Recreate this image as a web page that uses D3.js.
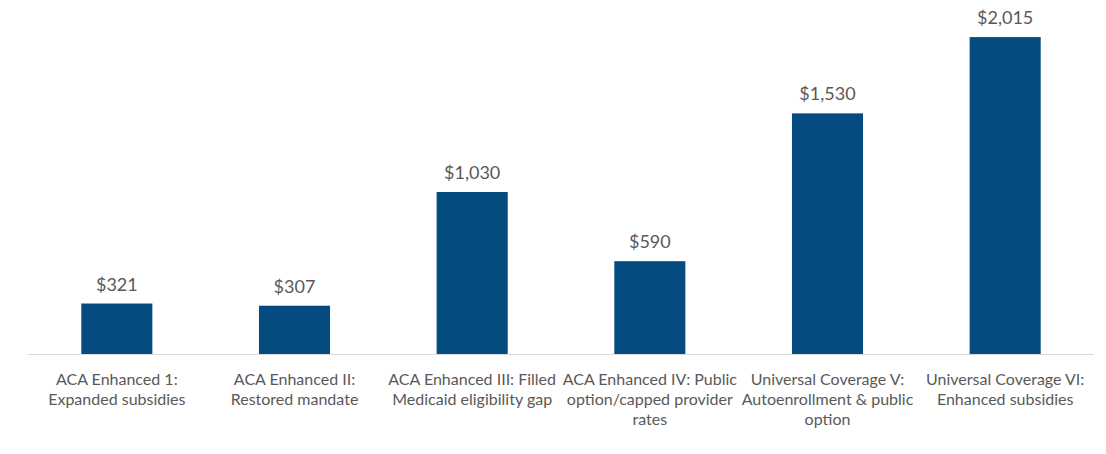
<!DOCTYPE html>
<html>
<head>
<meta charset="utf-8">
<script src="https://cdn.jsdelivr.net/npm/d3@7"></script>
<style>
  body { margin: 0; background: #fff; }
  svg { display: block; font-family: Lato, "Open Sans", sans-serif; }
</style>
</head>
<body>
<div id="chart"></div>
<script>
// Daten
const categories = [
    ["ACA Enhanced 1:", "Expanded subsidies"],
    ["ACA Enhanced II:", "Restored mandate"],
    ["ACA Enhanced III: Filled", "Medicaid eligibility gap"],
    ["ACA Enhanced IV: Public", "option/capped provider", "rates"],
    ["Universal Coverage V:", "Autoenrollment & public", "option"],
    ["Universal Coverage VI:", "Enhanced subsidies"]
];
const values = [321, 307, 1030, 590, 1530, 2015];
const valueLabels = ["$321", "$307", "$1,030", "$590", "$1,530", "$2,015"];

const width = 1106, height = 454;
const margin = { top: 8, right: 12, bottom: 100, left: 28 };

const svg = d3.select("#chart").append("svg")
    .attr("width", width)
    .attr("height", height);

// Skalen
const x = d3.scaleBand()
    .domain(d3.range(values.length))
    .range([margin.left, width - margin.right])
    .paddingInner(0.6)
    .paddingOuter(0.3);

const y = d3.scaleLinear()
    .domain([0, 2200])
    .range([height - margin.bottom, margin.top]);

// Balken
svg.selectAll("rect.bar")
    .data(values)
    .enter()
    .append("rect")
    .attr("class", "bar")
    .attr("x", (d, i) => x(i))
    .attr("y", d => y(d))
    .attr("width", x.bandwidth())
    .attr("height", d => y(0) - y(d))
    .attr("fill", "#044b7f");

// Achsenlinie
svg.append("line")
    .attr("x1", margin.left)
    .attr("x2", width - margin.right)
    .attr("y1", y(0) + 0.5)
    .attr("y2", y(0) + 0.5)
    .attr("stroke", "#d9d9d9")
    .attr("stroke-width", 1);

// Wertbeschriftungen
svg.selectAll("text.value")
    .data(values)
    .enter()
    .append("text")
    .attr("class", "value")
    .attr("x", (d, i) => x(i) + x.bandwidth() / 2)
    .attr("y", d => y(d) - 13)
    .attr("text-anchor", "middle")
    .attr("font-size", "18px")
    .attr("fill", "#595959")
    .text((d, i) => valueLabels[i]);

// Kategorien
const cat = svg.selectAll("text.cat")
    .data(categories)
    .enter()
    .append("text")
    .attr("class", "cat")
    .attr("text-anchor", "middle")
    .attr("font-size", "16px")
    .attr("fill", "#595959")
    .attr("transform", (d, i) => `translate(${x(i) + x.bandwidth() / 2}, ${y(0) + 31})`);

cat.selectAll("tspan")
    .data(d => d)
    .enter()
    .append("tspan")
    .attr("x", 0)
    .attr("dy", (d, i) => i === 0 ? 0 : 20)
    .text(d => d);
</script>
</body>
</html>
